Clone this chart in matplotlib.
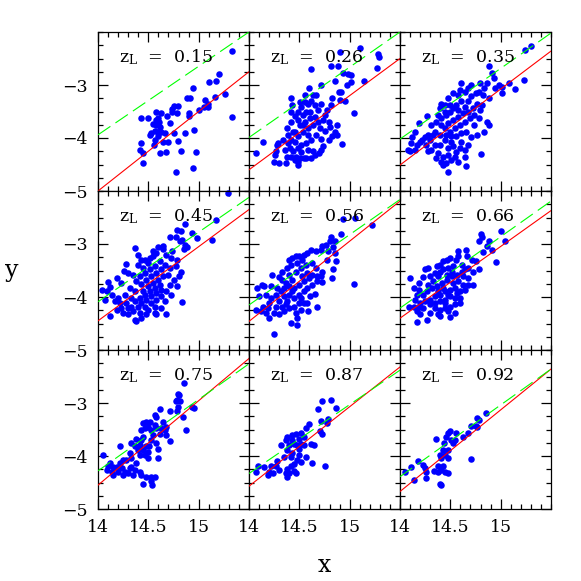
import matplotlib
matplotlib.use("Agg")
import matplotlib.pyplot as plt
from matplotlib.ticker import MultipleLocator

plt.rcParams['font.family'] = 'serif'
plt.rcParams['font.serif'] = ['DejaVu Serif', 'Liberation Serif']
plt.rcParams['mathtext.fontset'] = 'dejavuserif'

z_labels = ['0.15', '0.26', '0.35', '0.45', '0.56', '0.66', '0.75', '0.87', '0.92']

# red solid line: y at x=14 and x=15.5
red_y_at14 = [-5.00, -4.60, -4.51, -4.45, -4.46, -4.40, -4.55, -4.57, -4.67]
red_y_at155 = [-2.75, -2.50, -2.36, -2.35, -2.19, -2.37, -2.16, -2.32, -2.36]
# green dashed line
green_y_at14 = [-3.94, -3.99, -4.02, -4.09, -4.15, -4.21, -4.28, -4.33, -4.39]
green_y_at155 = [-2.00, -2.00, -2.02, -2.12, -2.16, -2.19, -2.26, -2.38, -2.36]
line_x = [14.0, 15.5]

x_z015 = [15.33, 15.20, 15.17, 15.10, 14.94, 14.88, 14.91, 14.79, 14.75, 14.74, 14.78, 14.69, 14.58, 14.60, 14.61,
          14.62, 14.58, 14.57, 14.63, 14.67, 14.72, 14.75, 14.79, 14.70, 14.65, 14.60, 14.57, 14.56, 14.62, 14.68,
          14.50, 14.43, 14.43, 14.42, 14.45, 14.45, 14.77, 14.82, 14.86, 14.90, 14.90, 14.95, 14.97, 14.94, 15.00,
          15.05, 15.06, 15.09, 15.09, 15.16, 15.26, 15.33, 14.58, 14.55, 14.53, 14.60, 14.52, 14.63, 14.74]
y_z015 = [-2.35, -2.80, -2.92, -2.95, -3.06, -3.24, -3.25, -3.39, -3.40, -3.45, -3.52, -3.58, -3.50, -3.62, -3.69,
          -3.79, -3.75, -3.87, -3.88, -3.91, -3.72, -3.91, -4.06, -4.07, -4.07, -3.97, -4.04, -4.13, -4.28, -4.26,
          -3.63, -3.63, -4.10, -4.23, -4.29, -4.48, -4.64, -4.25, -3.91, -3.53, -3.58, -3.84, -4.27, -4.57, -3.48,
          -3.41, -3.28, -3.41, -3.36, -3.22, -3.17, -3.60, -3.66, -3.74, -3.91, -3.89, -3.94, -3.53, -3.50]

x_z026 = [14.07, 14.14, 14.26, 14.28, 14.29, 14.27, 14.25, 14.30, 14.37, 14.38, 14.42, 14.43, 14.56, 14.60, 14.62,
          14.67, 14.72, 14.81, 14.85, 14.90, 14.88, 14.93, 14.98, 15.01, 15.01, 14.97, 14.89, 14.91, 14.95, 14.90,
          14.82, 14.81, 15.04, 15.10, 15.14, 15.27, 15.29, 15.28, 14.92, 14.87, 14.87, 14.82, 14.85, 14.79, 14.75,
          14.72, 14.72, 14.70, 14.66, 14.64, 14.62, 14.57, 14.55, 14.49, 14.49, 14.47, 14.42, 14.41, 14.36, 14.34,
          14.38, 14.39, 14.42, 14.46, 14.49, 14.52, 14.54, 14.57, 14.59, 14.62, 14.66, 14.69, 14.72, 14.77, 14.66,
          14.61, 14.56, 14.51, 14.46, 14.49, 14.54, 14.59, 14.64, 14.69, 14.74, 14.71, 14.67, 14.62, 14.57, 14.52,
          14.46, 14.42, 14.52, 14.59, 14.49, 14.44, 14.39, 14.44, 14.49, 14.54, 14.61, 14.56, 14.51, 14.64, 14.75,
          14.79, 14.59, 14.51, 14.46, 14.74, 14.80, 14.42]
y_z026 = [-4.29, -4.07, -4.32, -4.13, -4.10, -4.25, -4.45, -4.48, -4.48, -4.35, -3.24, -3.38, -3.19, -3.05, -2.69,
          -3.18, -3.00, -2.64, -2.92, -2.37, -2.65, -2.78, -2.80, -2.81, -2.95, -3.00, -3.14, -3.13, -3.31, -3.28,
          -3.25, -3.38, -3.53, -2.30, -2.92, -2.67, -2.47, -2.42, -4.12, -3.94, -3.75, -3.96, -3.88, -4.04, -3.87,
          -4.01, -4.23, -4.29, -4.33, -4.25, -4.38, -4.38, -4.37, -4.45, -4.51, -4.35, -4.35, -4.19, -4.23, -4.04,
          -3.82, -3.94, -3.69, -3.58, -3.50, -3.41, -3.57, -3.50, -3.35, -3.30, -3.38, -3.47, -3.35, -3.47, -3.60,
          -3.63, -3.69, -3.75, -3.88, -3.97, -3.88, -3.82, -3.75, -3.69, -3.66, -3.82, -3.94, -4.04, -4.10, -4.13,
          -4.07, -4.04, -4.26, -4.23, -4.19, -4.25, -4.10, -3.88, -3.66, -3.75, -3.50, -3.32, -3.32, -3.19, -3.57,
          -3.69, -3.94, -4.38, -4.42, -4.16, -3.79, -3.50]

x_z035 = [15.30, 15.24, 15.23, 15.14, 15.01, 14.94, 14.98, 14.88, 14.91, 14.93, 14.86, 14.83, 14.82, 14.78, 14.75,
          14.71, 14.68, 14.61, 14.60, 14.58, 14.53, 14.48, 14.45, 14.41, 14.40, 14.27, 14.19, 14.15, 14.12, 14.11,
          14.08, 14.10, 14.17, 14.20, 14.25, 14.26, 14.28, 14.31, 14.35, 14.38, 14.41, 14.43, 14.48, 14.46, 14.51,
          14.55, 14.58, 14.56, 14.66, 14.65, 14.80, 14.68, 14.61, 14.51, 14.45, 14.40, 14.35, 14.31, 14.36, 14.41,
          14.46, 14.50, 14.53, 14.56, 14.61, 14.65, 14.68, 14.71, 14.76, 14.79, 14.74, 14.70, 14.65, 14.60, 14.55,
          14.50, 14.45, 14.48, 14.53, 14.58, 14.63, 14.68, 14.73, 14.86, 14.88, 14.83, 14.76, 14.71, 14.66, 14.61,
          14.56, 14.51, 14.46, 14.41, 14.38, 14.33, 14.28, 14.22, 14.30, 14.40, 14.48, 14.53, 14.60, 14.65, 14.48,
          14.43, 14.36, 14.15, 14.78, 14.81, 14.88, 14.74, 14.58, 14.50, 14.45, 14.65, 14.79, 15.01, 15.08]
y_z035 = [-2.26, -2.34, -2.91, -3.08, -3.16, -3.06, -3.00, -2.65, -2.78, -2.87, -2.97, -3.06, -3.19, -3.13, -3.16,
          -3.00, -3.06, -2.97, -3.09, -3.19, -3.16, -3.25, -3.38, -3.35, -3.44, -3.58, -3.72, -3.88, -3.99, -4.10,
          -4.23, -4.25, -4.13, -4.07, -3.99, -4.13, -4.25, -4.23, -4.13, -4.29, -4.45, -4.51, -4.64, -4.48, -4.42,
          -4.35, -4.45, -4.26, -4.52, -4.35, -4.31, -4.13, -4.07, -4.07, -4.04, -3.94, -3.88, -3.75, -3.69, -3.63,
          -3.57, -3.50, -3.44, -3.38, -3.31, -3.41, -3.31, -3.21, -3.35, -3.47, -3.57, -3.63, -3.69, -3.75, -3.82,
          -3.88, -3.82, -3.72, -3.66, -3.60, -3.53, -3.50, -3.44, -3.69, -3.75, -3.88, -3.94, -3.99, -3.88, -3.91,
          -3.97, -3.97, -3.94, -3.75, -3.57, -3.94, -3.94, -4.04, -4.04, -4.13, -4.19, -4.16, -4.19, -4.23, -4.32,
          -4.35, -4.38, -4.23, -3.63, -3.38, -3.25, -3.75, -3.47, -3.38, -3.50, -3.13, -2.97, -3.03, -2.97]

x_z045 = [15.29, 15.17, 15.13, 14.86, 14.78, 14.82, 14.72, 14.77, 14.83, 14.86, 14.88, 14.85, 14.81, 14.74, 14.65,
          14.65, 14.60, 14.58, 14.55, 14.37, 14.52, 14.47, 14.43, 14.40, 14.28, 14.26, 14.30, 14.19, 14.10, 14.12,
          14.04, 14.09, 14.07, 14.12, 14.19, 14.22, 14.20, 14.27, 14.23, 14.32, 14.37, 14.33, 14.28, 14.25, 14.30,
          14.37, 14.38, 14.43, 14.48, 14.50, 14.57, 14.58, 14.63, 14.68, 14.83, 14.73, 14.68, 14.63, 14.58, 14.53,
          14.48, 14.43, 14.40, 14.45, 14.50, 14.55, 14.60, 14.65, 14.70, 14.75, 14.78, 14.82, 14.80, 14.72, 14.67,
          14.62, 14.57, 14.52, 14.47, 14.42, 14.38, 14.35, 14.43, 14.48, 14.53, 14.58, 14.63, 14.68, 14.73, 14.78,
          14.62, 14.57, 14.52, 14.47, 14.42, 14.37, 14.33, 14.30, 14.35, 14.42, 14.47, 14.53, 14.58, 14.63, 14.57,
          14.23, 14.17, 14.14, 14.67, 14.72, 14.77, 14.40, 14.45, 14.50, 14.55, 14.93, 14.98]
y_z045 = [-2.04, -2.54, -2.92, -2.62, -2.73, -2.76, -2.87, -2.87, -2.92, -3.02, -3.06, -3.10, -2.95, -3.14, -3.03,
          -3.10, -3.06, -3.17, -3.14, -3.08, -3.26, -3.30, -3.30, -3.39, -3.38, -3.50, -3.55, -3.65, -3.72, -3.81,
          -3.86, -3.89, -4.05, -4.36, -4.24, -4.11, -4.02, -3.96, -3.74, -3.83, -3.89, -4.02, -4.11, -4.30, -4.33,
          -4.43, -4.46, -4.40, -4.33, -4.24, -4.30, -4.33, -4.21, -4.32, -4.09, -3.96, -3.89, -3.86, -3.92, -3.99,
          -4.05, -4.11, -4.18, -3.89, -3.80, -3.74, -3.67, -3.61, -3.58, -3.67, -3.80, -3.52, -3.61, -3.45, -3.39,
          -3.33, -3.42, -3.48, -3.55, -3.61, -3.70, -3.58, -3.76, -3.67, -3.61, -3.55, -3.48, -3.20, -3.26, -3.30,
          -3.77, -3.83, -3.89, -3.96, -4.02, -4.08, -4.18, -4.21, -4.27, -4.30, -4.18, -4.11, -4.05, -3.99, -4.18,
          -4.21, -4.08, -3.96, -4.08, -3.77, -3.42, -3.20, -3.45, -3.36, -3.23, -2.79, -2.89]

x_z056 = [14.93, 15.05, 15.22, 15.04, 14.91, 14.81, 14.85, 14.80, 14.76, 14.83, 14.78, 14.73, 14.72, 14.67, 14.62,
          14.58, 14.55, 14.50, 14.47, 14.43, 14.40, 14.42, 14.38, 14.33, 14.30, 14.23, 14.33, 14.40, 14.47, 14.52,
          14.57, 14.63, 14.67, 14.63, 14.60, 14.55, 14.50, 14.45, 14.40, 14.35, 14.28, 14.22, 14.15, 14.13, 14.08,
          14.10, 14.17, 14.22, 14.27, 14.20, 14.14, 14.07, 14.12, 14.19, 14.27, 14.30, 14.35, 14.40, 14.45, 14.50,
          14.55, 14.58, 14.50, 14.45, 14.40, 14.35, 14.30, 14.25, 14.20, 14.47, 14.52, 14.59, 14.68, 14.66, 14.58,
          14.48, 14.42, 14.48, 14.25, 14.83, 14.82, 14.73, 14.72, 14.73, 14.68, 14.53, 14.58, 14.43, 14.37, 14.32,
          14.43, 14.52, 14.38, 14.33, 14.55, 14.61, 14.63, 14.68, 14.77, 14.85, 14.86, 14.48, 14.53, 14.37, 14.17]
y_z056 = [-2.52, -2.51, -2.65, -3.75, -2.81, -2.86, -2.95, -2.95, -3.01, -3.06, -3.14, -3.04, -3.11, -3.14, -3.11,
          -3.17, -3.20, -3.23, -3.23, -3.26, -3.30, -3.39, -3.45, -3.52, -3.63, -3.59, -3.67, -3.58, -3.52, -3.45,
          -3.39, -3.36, -3.45, -3.58, -3.64, -3.70, -3.77, -3.83, -3.80, -3.83, -3.83, -3.80, -3.80, -3.78, -3.83,
          -3.99, -3.96, -4.02, -3.96, -4.11, -4.18, -4.24, -4.27, -4.21, -4.18, -4.08, -3.99, -3.96, -4.02, -3.96,
          -3.89, -3.83, -4.11, -4.18, -4.21, -4.27, -4.33, -4.30, -4.40, -4.30, -4.24, -4.26, -4.18, -3.94, -4.11,
          -4.40, -4.49, -4.53, -4.69, -3.47, -3.65, -3.72, -3.61, -3.52, -3.61, -3.61, -3.55, -3.67, -3.74, -3.89,
          -3.89, -4.02, -4.08, -4.18, -4.11, -3.99, -3.77, -3.70, -3.30, -3.17, -3.33, -3.36, -3.30, -4.14, -4.30]

x_z066 = [15.00, 15.04, 14.80, 14.81, 14.78, 14.88, 14.86, 14.91, 14.82, 14.95, 14.66, 14.58, 14.58, 14.56, 14.67,
          14.72, 14.75, 14.78, 14.50, 14.47, 14.43, 14.40, 14.43, 14.48, 14.53, 14.62, 14.68, 14.28, 14.25, 14.23,
          14.30, 14.35, 14.38, 14.33, 14.28, 14.19, 14.10, 14.14, 14.19, 14.17, 14.23, 14.27, 14.32, 14.37, 14.42,
          14.47, 14.52, 14.57, 14.63, 14.58, 14.63, 14.68, 14.73, 14.65, 14.60, 14.55, 14.50, 14.45, 14.40, 14.35,
          14.30, 14.25, 14.20, 14.15, 14.14, 14.09, 14.17, 14.20, 14.23, 14.30, 14.35, 14.40, 14.45, 14.50, 14.55,
          14.60, 14.55, 14.50, 14.45, 14.40, 14.35, 14.30, 14.27, 14.17, 14.38, 14.40, 14.48, 14.50, 14.55, 14.45,
          14.48, 14.43, 14.38, 14.53, 14.52, 14.47, 14.40, 14.37, 14.62, 14.65, 14.73, 14.68, 14.60, 14.57, 14.19]
y_z066 = [-2.75, -2.95, -2.81, -2.86, -2.95, -2.94, -3.04, -3.11, -3.15, -3.34, -3.11, -3.14, -3.23, -3.30, -3.23,
          -3.30, -3.33, -3.48, -3.26, -3.31, -3.33, -3.39, -3.48, -3.45, -3.42, -3.39, -3.45, -3.45, -3.48, -3.63,
          -3.61, -3.55, -3.61, -3.70, -3.77, -3.74, -3.65, -3.83, -3.86, -3.96, -3.96, -3.89, -3.83, -3.80, -3.74,
          -3.67, -3.61, -3.58, -3.61, -3.70, -3.77, -3.77, -3.77, -3.86, -3.89, -3.83, -3.86, -3.89, -3.96, -3.99,
          -4.05, -4.08, -4.11, -4.05, -4.18, -4.18, -4.27, -4.33, -4.21, -4.14, -4.11, -4.08, -4.05, -3.99, -4.02,
          -4.02, -4.14, -4.18, -4.21, -4.24, -4.21, -4.30, -4.43, -4.48, -4.33, -4.36, -4.27, -4.38, -4.30, -4.11,
          -3.96, -3.83, -3.89, -3.74, -3.52, -3.59, -3.52, -3.42, -3.52, -3.48, -3.52, -3.64, -4.11, -3.92, -4.18]

x_z075 = [14.05, 14.12, 14.10, 14.09, 14.14, 14.15, 14.20, 14.19, 14.22, 14.24, 14.27, 14.25, 14.30, 14.32, 14.28,
          14.33, 14.38, 14.37, 14.35, 14.42, 14.43, 14.45, 14.48, 14.53, 14.54, 14.57, 14.53, 14.22, 14.32, 14.33,
          14.37, 14.40, 14.42, 14.45, 14.47, 14.42, 14.50, 14.50, 14.48, 14.43, 14.45, 14.43, 14.47, 14.45, 14.48,
          14.52, 14.50, 14.53, 14.57, 14.58, 14.55, 14.53, 14.51, 14.58, 14.60, 14.60, 14.57, 14.58, 14.62, 14.65,
          14.68, 14.68, 14.72, 14.67, 14.63, 14.72, 14.78, 14.79, 14.77, 14.78, 14.80, 14.81, 14.79, 14.85, 14.84,
          14.87, 14.93, 14.95, 14.62, 14.38, 14.33, 14.15, 14.25]
y_z075 = [-3.98, -4.13, -4.19, -4.26, -4.30, -4.36, -4.30, -4.20, -4.13, -4.23, -4.30, -4.36, -4.33, -4.23, -4.08,
          -4.04, -4.14, -4.26, -4.36, -4.30, -4.36, -4.53, -4.39, -4.39, -4.55, -4.40, -4.48, -3.82, -3.95, -3.76,
          -3.82, -3.89, -3.79, -3.89, -3.98, -3.98, -4.04, -3.92, -3.81, -3.70, -3.64, -3.51, -3.48, -3.38, -3.35,
          -3.35, -3.45, -3.51, -3.42, -3.48, -3.60, -3.70, -3.82, -3.76, -3.86, -4.04, -3.23, -3.26, -3.12, -3.35,
          -3.45, -3.60, -3.71, -3.51, -3.48, -3.16, -3.16, -3.07, -2.97, -2.94, -2.85, -2.96, -2.83, -2.63, -3.26,
          -3.51, -3.07, -3.10, -3.58, -3.67, -4.20, -4.20, -4.08]

x_z087 = [14.81, 14.73, 14.86, 14.69, 14.78, 14.77, 14.72, 14.71, 14.73, 14.60, 14.57, 14.52, 14.55, 14.50, 14.47,
          14.43, 14.38, 14.43, 14.45, 14.40, 14.48, 14.52, 14.55, 14.62, 14.65, 14.32, 14.50, 14.38, 14.43, 14.50,
          14.57, 14.52, 14.42, 14.35, 14.28, 14.27, 14.30, 14.22, 14.24, 14.19, 14.20, 14.15, 14.09, 14.07, 14.38,
          14.42, 14.45, 14.40, 14.37, 14.38, 14.47, 14.63, 14.75, 14.45, 14.48, 14.37]
y_z087 = [-2.94, -2.96, -3.09, -3.11, -3.30, -3.38, -3.34, -3.52, -3.59, -3.40, -3.48, -3.57, -3.65, -3.67, -3.59,
          -3.61, -3.64, -3.70, -3.77, -3.80, -3.80, -3.77, -3.80, -3.77, -3.80, -3.80, -3.86, -3.89, -3.94, -3.99,
          -4.01, -4.11, -4.02, -4.02, -4.10, -4.18, -4.27, -4.18, -4.33, -4.36, -4.30, -4.21, -4.18, -4.30, -4.24,
          -4.18, -4.28, -4.32, -4.33, -4.40, -4.32, -4.14, -4.19, -4.15, -4.08, -3.70]

x_z092 = [14.85, 14.76, 14.78, 14.75, 14.71, 14.76, 14.68, 14.63, 14.56, 14.55, 14.50, 14.48, 14.46, 14.51, 14.53,
          14.44, 14.43, 14.48, 14.45, 14.40, 14.41, 14.48, 14.36, 14.38, 14.43, 14.41, 14.38, 14.34, 14.48, 14.45,
          14.40, 14.41, 14.23, 14.25, 14.26, 14.26, 14.18, 14.11, 14.05, 14.14, 14.71]
y_z092 = [-3.18, -3.29, -3.32, -3.43, -3.43, -3.46, -3.57, -3.65, -3.57, -3.70, -3.52, -3.57, -3.64, -3.70, -3.76,
          -3.76, -3.89, -3.89, -3.98, -3.98, -4.04, -4.04, -3.67, -4.19, -4.19, -4.26, -4.30, -4.28, -4.33, -4.30,
          -4.52, -4.55, -4.17, -4.23, -4.30, -4.42, -4.09, -4.21, -4.31, -4.45, -4.06]

panel_x = [x_z015, x_z026, x_z035, x_z045, x_z056, x_z066, x_z075, x_z087, x_z092]
panel_y = [y_z015, y_z026, y_z035, y_z045, y_z056, y_z066, y_z075, y_z087, y_z092]

fig = plt.figure(figsize=(5.81, 5.81), dpi=100)
L, R, B, T = 98 / 581, 551 / 581, 1 - 509 / 581, 1 - 32 / 581
gs = fig.add_gridspec(3, 3, left=L, right=R, bottom=B, top=T, wspace=0, hspace=0)

for i in range(9):
    r, c = divmod(i, 3)
    ax = fig.add_subplot(gs[r, c])
    ax.plot(line_x, [red_y_at14[i], red_y_at155[i]], color='#ff0000', lw=0.8, zorder=3)
    ax.plot(line_x, [green_y_at14[i], green_y_at155[i]], color='#00ff00', lw=0.8,
            dashes=(13.5, 5.5), zorder=3)
    ax.scatter(panel_x[i], panel_y[i], s=22, color='#0000ff', linewidths=0, zorder=2, clip_on=False)
    ax.set_xlim(14, 15.5)
    ax.set_ylim(-5, -2)
    ax.xaxis.set_major_locator(MultipleLocator(0.5))
    ax.xaxis.set_minor_locator(MultipleLocator(0.1))
    ax.yaxis.set_major_locator(MultipleLocator(1))
    ax.yaxis.set_minor_locator(MultipleLocator(0.25))
    ax.tick_params(which='both', direction='in', top=True, right=True, width=0.9, labelsize=12.5)
    ax.tick_params(which='major', length=7)
    ax.tick_params(axis='x', which='major', pad=7)
    ax.tick_params(axis='y', which='major', pad=7.5)
    ax.tick_params(which='minor', length=3.5)
    for sp in ax.spines.values():
        sp.set_linewidth(0.9)
    ax.set_xticks([14, 14.5, 15])
    ax.set_xticklabels(['14', '14.5', '15'])
    ax.set_yticks([-5, -4, -3])
    ax.set_yticklabels(['\u22125', '\u22124', '\u22123'])
    if r < 2:
        ax.tick_params(labelbottom=False)
    if c > 0:
        ax.tick_params(labelleft=False)
    ax.text(0.14, 0.81, r'z$_{\mathrm{L}}$  =  ' + z_labels[i], transform=ax.transAxes,
            fontsize=12.5, va='baseline', ha='left')

fig.text((L + R) / 2, 1 - 566 / 581, 'x', fontsize=17, ha='center', va='center')
fig.text(12 / 581, 1 - 271 / 581, 'y', fontsize=17, ha='center', va='center')

fig.savefig('out.png', dpi=100)
